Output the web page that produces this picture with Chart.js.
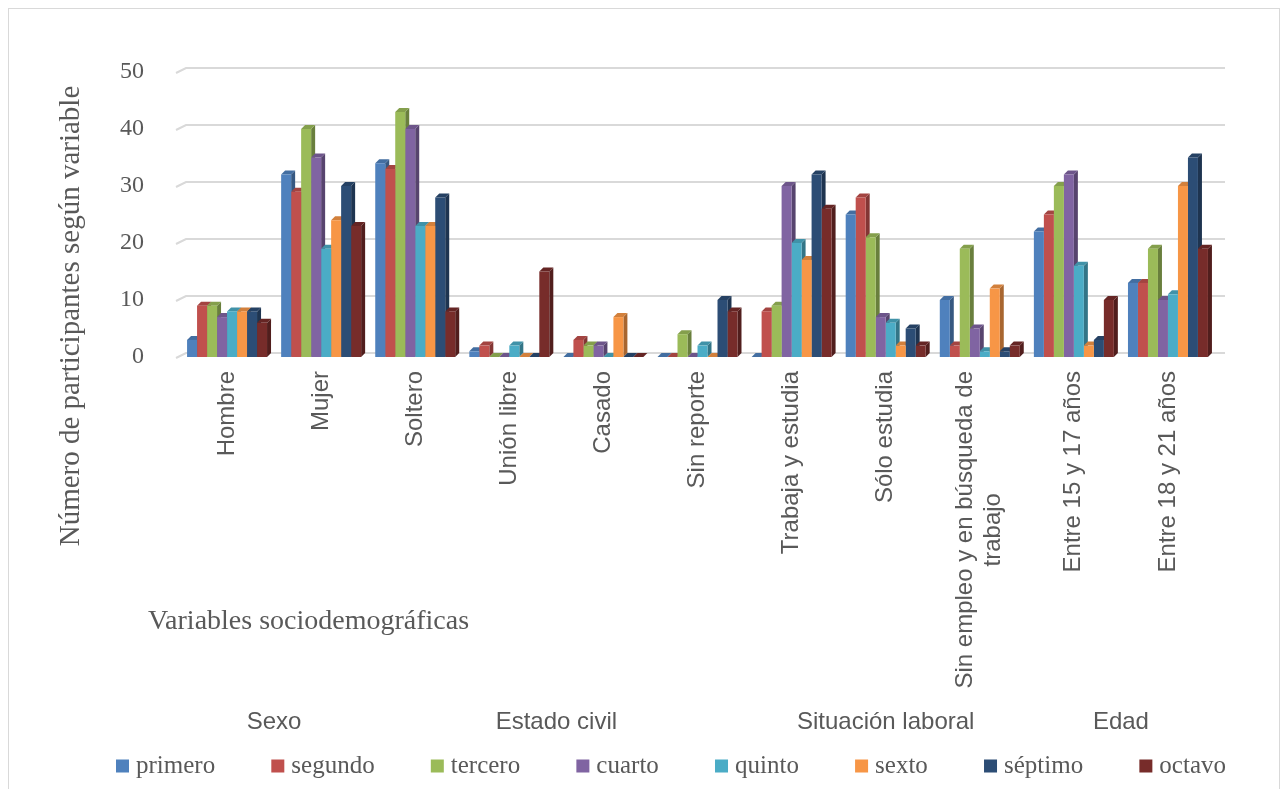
<!DOCTYPE html>
<html><head><meta charset="utf-8">
<script src="https://cdn.jsdelivr.net/npm/chart.js@4.4.1/dist/chart.umd.min.js"></script>
<style>html,body{margin:0;padding:0;background:#fff;}#wrap{width:1287px;height:789px;position:relative;}</style>
</head><body><div id="wrap"><canvas id="c" width="1287" height="789"></canvas></div>
<script>
// ---- data ----
const categories = ['Hombre','Mujer','Soltero','Unión libre','Casado','Sin reporte','Trabaja y estudia','Sólo estudia',['Sin empleo y en búsqueda de','trabajo'],'Entre 15 y 17 años','Entre 18 y 21 años'];
const groupNames = ['Sexo','Estado civil','Situación laboral','Edad'];
const groupSizes = [2,4,3,2];
const seriesNames = ['primero','segundo','tercero','cuarto','quinto','sexto','séptimo','octavo'];
const seriesColors = ['#4F81BD','#C0504D','#9BBB59','#8064A2','#4BACC6','#F79646','#2C4D75','#772C2A'];
const primero = [3,32,34,1,0,0,0,25,10,22,13];
const segundo = [9,29,33,2,3,0,8,28,2,25,13];
const tercero = [9,40,43,0,2,4,9,21,19,30,19];
const cuarto  = [7,35,40,0,2,0,30,7,5,32,10];
const quinto  = [8,19,23,2,0,2,20,6,1,16,11];
const sexto   = [8,24,23,0,7,0,17,2,12,2,30];
const septimo = [8,30,28,0,0,10,32,5,1,3,35];
const octavo  = [6,23,8,15,0,8,26,2,2,10,19];
const seriesValues = [primero,segundo,tercero,cuarto,quinto,sexto,septimo,octavo];
const yMin = 0, yMax = 50, yStep = 10;
const yTitle = 'Número de participantes según variable';
const xTitle = 'Variables sociodemográficas';

// ---- styling helpers ----
const TXT = '#595959';
const SERIF = '"Liberation Serif", "DejaVu Serif", serif';
const SANS = '"Liberation Sans", Arial, sans-serif';
const DEPTH = 4;
function shade(hex, f){
  const n = parseInt(hex.slice(1),16);
  let r=(n>>16)&255, g=(n>>8)&255, b=n&255;
  if (f<1){ r=Math.round(r*f); g=Math.round(g*f); b=Math.round(b*f); }
  else { const t=f-1; r=Math.round(r+(255-r)*t); g=Math.round(g+(255-g)*t); b=Math.round(b+(255-b)*t); }
  return 'rgb('+r+','+g+','+b+')';
}

const datasets = seriesNames.map((name,i)=>({
  label: name,
  data: seriesValues[i],
  backgroundColor: seriesColors[i],
  borderWidth: 0,
  categoryPercentage: 0.85,
  barPercentage: 1.0
}));

const deco = {
  id: 'deco',
  beforeDatasetsDraw(chart){
    const ctx = chart.ctx, ca = chart.chartArea, ys = chart.scales.y;
    ctx.save();
    // back-wall gridlines
    ctx.strokeStyle = '#d9d9d9'; ctx.lineWidth = 2;
    for (let v=yMin; v<=yMax; v+=yStep){
      const y = Math.round(ys.getPixelForValue(v));
      ctx.beginPath();
      ctx.moveTo(ca.left-4, y+1);
      ctx.lineTo(ca.left+DEPTH+2, y-DEPTH);
      ctx.lineTo(ca.right+DEPTH+6, y-DEPTH);
      ctx.stroke();
    }
    // 3D faces
    const metas = chart.getSortedVisibleDatasetMetas();
    const n = chart.data.labels.length;
    for (let k=0;k<n;k++){
      metas.forEach((meta)=>{
        const el = meta.data[k]; if(!el) return;
        const p = el.getProps(['x','y','base','width'], true);
        const l = p.x - p.width/2, r = p.x + p.width/2;
        const top = Math.min(p.y,p.base), bot = Math.max(p.y,p.base);
        const col = seriesColors[meta.index];
        ctx.fillStyle = shade(col,0.68);
        ctx.beginPath();
        ctx.moveTo(r,top); ctx.lineTo(r+DEPTH,top-DEPTH); ctx.lineTo(r+DEPTH,bot-DEPTH); ctx.lineTo(r,bot); ctx.closePath(); ctx.fill();
        ctx.fillStyle = shade(col,0.85);
        ctx.beginPath();
        ctx.moveTo(l,top); ctx.lineTo(l+DEPTH,top-DEPTH); ctx.lineTo(r+DEPTH,top-DEPTH); ctx.lineTo(r,top); ctx.closePath(); ctx.fill();
      });
    }
    ctx.restore();
  },
  afterDraw(chart){
    const ctx = chart.ctx, ca = chart.chartArea, xs = chart.scales.x;
    ctx.save();
    // outer border
    ctx.strokeStyle = '#d9d9d9'; ctx.lineWidth = 1;
    ctx.strokeRect(8.5, 8.5, 1271, 800);
    // category labels (rotated)
    ctx.fillStyle = TXT;
    ctx.font = '24px ' + SANS;
    const lh = 28;
    chart.data.labels.forEach((lab,i)=>{
      const lines = Array.isArray(lab) ? lab : [lab];
      const x = xs.getPixelForTick(i);
      const w = Math.max(...lines.map(s=>ctx.measureText(s).width));
      ctx.save();
      ctx.translate(x, ca.bottom + 14);
      ctx.rotate(-Math.PI/2);
      ctx.textBaseline = 'middle';
      ctx.textAlign = 'center';
      lines.forEach((s,j)=>{
        ctx.fillText(s, -w/2, (j-(lines.length-1)/2)*lh);
      });
      ctx.restore();
    });
    // group labels
    ctx.textAlign = 'center'; ctx.textBaseline = 'middle';
    let idx = 0;
    groupNames.forEach((g,gi)=>{
      const a = xs.getPixelForTick(idx), b = xs.getPixelForTick(idx+groupSizes[gi]-1);
      ctx.fillText(g, (a+b)/2, ca.bottom + 365);
      idx += groupSizes[gi];
    });
    // y title
    ctx.font = '29px ' + SERIF;
    ctx.save();
    ctx.translate(71, 316);
    ctx.rotate(-Math.PI/2);
    ctx.fillText(yTitle, 0, 0);
    ctx.restore();
    // x title
    ctx.font = '28px ' + SERIF;
    ctx.textAlign = 'left';
    ctx.fillText(xTitle, 148, ca.bottom + 265);
    // legend
    ctx.font = '25px ' + SERIF;
    const box = 13, gapBT = 7;
    const widths = seriesNames.map(s=>ctx.measureText(s).width);
    const startX = 116, endX = 1226;
    const used = widths.reduce((a,b)=>a+b,0) + seriesNames.length*(box+gapBT);
    const gap = (endX-startX-used)/(seriesNames.length-1);
    let cx = startX;
    const ly = ca.bottom + 409;
    seriesNames.forEach((s,i)=>{
      ctx.fillStyle = seriesColors[i];
      ctx.fillRect(cx, ly-box/2, box, box);
      ctx.fillStyle = TXT;
      ctx.fillText(s, cx+box+gapBT, ly);
      cx += box+gapBT+widths[i]+gap;
    });
    ctx.restore();
  }
};

new Chart(document.getElementById('c'), {
  type: 'bar',
  data: { labels: categories, datasets: datasets },
  options: {
    responsive: false,
    animation: false,
    layout: { padding: { top: 72, right: 72, bottom: 0, left: 0 } },
    plugins: { legend: { display: false }, tooltip: { enabled: false } },
    scales: {
      x: {
        grid: { display: false },
        border: { display: false },
        ticks: { display: false },
        afterFit(s){ s.height = 432; }
      },
      y: {
        min: yMin, max: yMax,
        ticks: { stepSize: yStep, color: TXT, font: { family: SERIF, size: 24 }, padding: 28 },
        grid: { display: false },
        border: { display: false },
        afterFit(s){ s.width = 180; }
      }
    }
  },
  plugins: [deco]
});
</script>
</body></html>
